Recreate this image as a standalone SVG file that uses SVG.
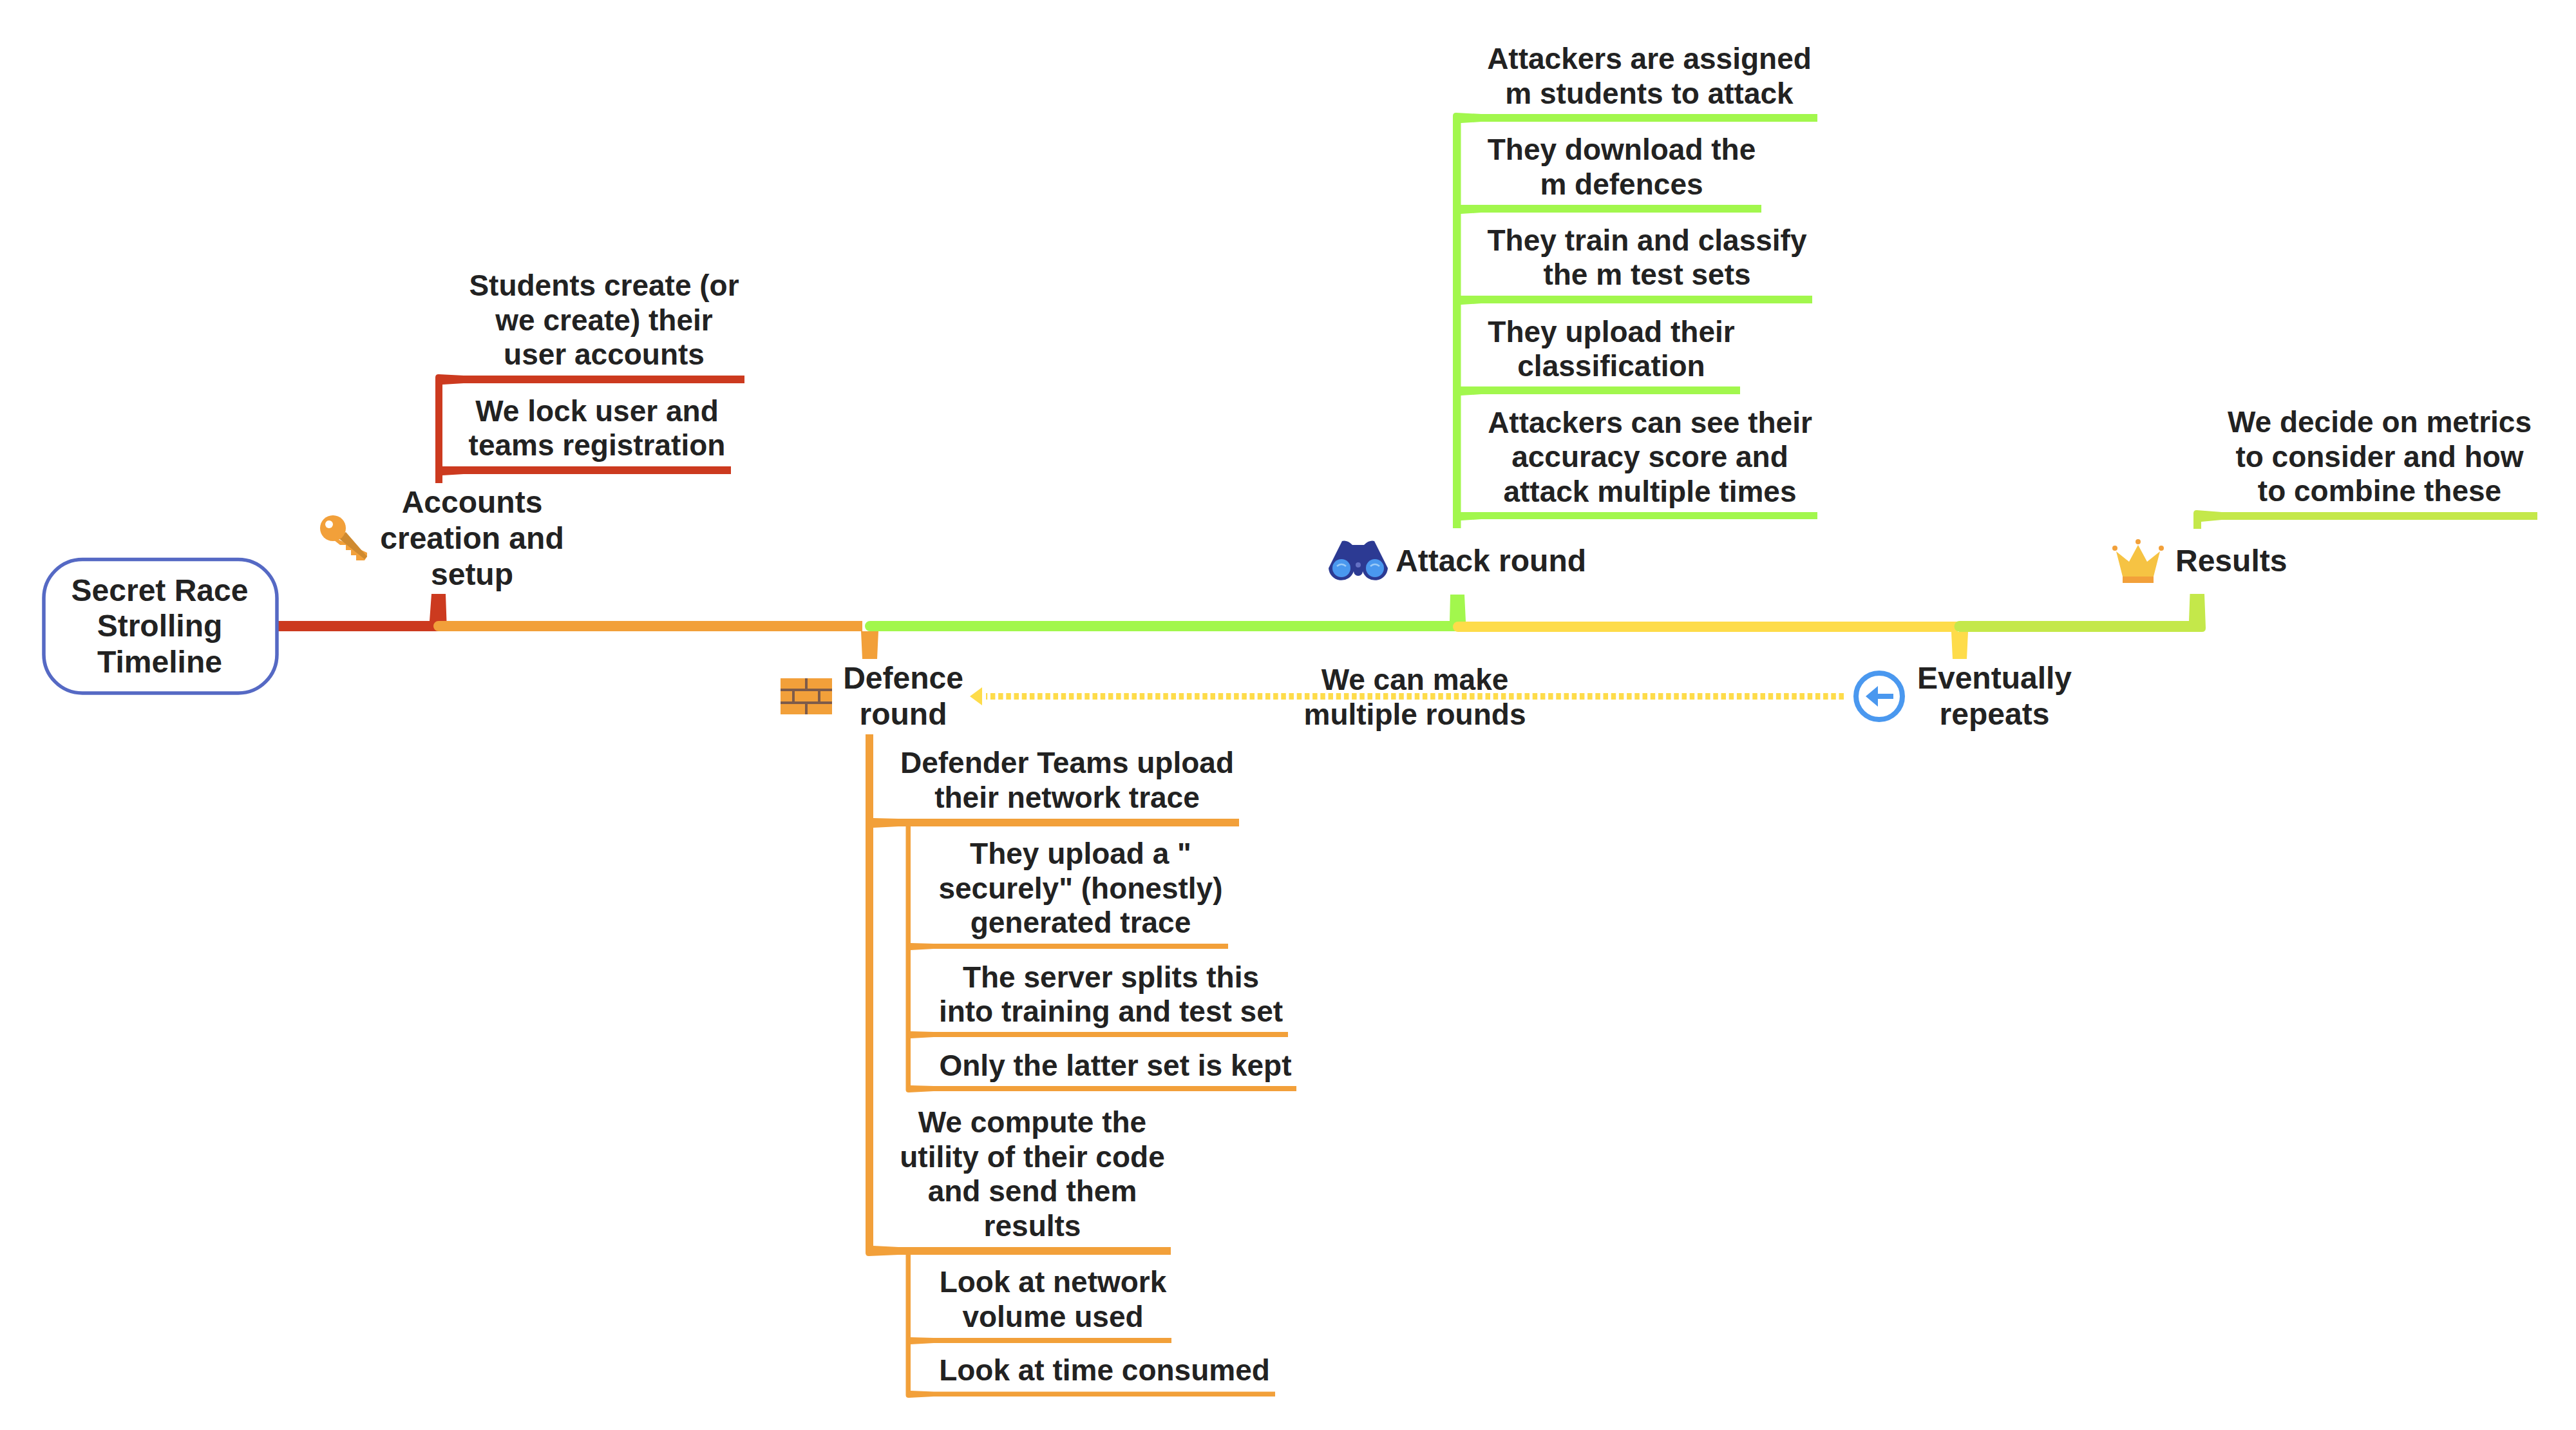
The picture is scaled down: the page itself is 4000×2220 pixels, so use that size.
<svg xmlns="http://www.w3.org/2000/svg" width="4000" height="2220" viewBox="0 0 4000 2220">
<style>
text{font-family:"Liberation Sans",Arial,sans-serif;font-weight:700;font-size:46px;fill:#222;text-anchor:middle}
.s{text-anchor:start}
.big text,text.big{font-size:48px}
.red{fill:#cc3a1f}.org{fill:#f2a03a}.grn{fill:#a2f74d}.yel{fill:#fedc4a}.lim{fill:#c4e84a}
</style>
<rect width="4000" height="2220" fill="#fff"/>
<g id="connectors">
<path class="red" d="M431 964H667L670 922H692L694 980H431Z"/>
<path class="org" d="M681 964H1339V980H1364L1362 1023H1339L1337 980H681A8 8 0 0 1 681 964Z"/>
<path class="grn" d="M1351 964H2251L2252 923H2274L2276 965V980H1351A8 8 0 0 1 1351 964Z"/>
<path class="yel" d="M2264 965H3040V981H3056L3054 1023H3032L3030 981H2264A8 8 0 0 1 2264 965Z"/>
<path class="lim" d="M3043 964H3399L3400.5 922H3423L3425 975Q3425 981 3419 981H3043A8.5 8.5 0 0 1 3043 964Z"/>

<path class="red" d="M676 586Q676 581 681 581L720 583H1156V595H720L687 597V724H720H1135V736H720L687 738V750H676Z"/>
<path class="lim" d="M3406 797Q3406 792 3411 792L3450 795H3940V807H3450L3418 810V821H3406Z"/>
<path class="grn" d="M2256 180Q2256 175 2261 175L2300 177H2822V189H2300L2268.500 191V318L2300 318H2735V330H2300L2268.500 332V459L2300 459H2814V471H2300L2268.500 473V600L2300 600H2702V612H2300L2268.500 614V795L2300 795H2822V806H2300L2268.500 808V820H2256Z"/>

<path class="org" d="M1344 1140H1356V1270L1395 1271H1924V1283H1414V1464L1450 1465H1907V1473H1450L1414 1475V1601L1450 1602H2000V1610H1450L1414 1612V1685L1450 1686H2013V1694H1450L1411 1696Q1406.500 1696 1406.500 1692V1283H1395L1356 1285V1934L1395 1936H1818V1948H1414V2076L1450 2077H1819V2085H1450L1414 2087V2159L1450 2160.500H1980V2168H1450L1411 2170Q1406.500 2170 1406.500 2166V1948H1395L1349 1950Q1344 1950 1344 1945Z"/>

<path d="M2863 1081H1531" fill="none" stroke="#fedc4a" stroke-width="10" stroke-dasharray="7.500 4.700"/>
<polygon class="yel" points="1525,1067 1525,1095 1506,1081"/>
</g>

<g id="root" class="big">
<rect x="68" y="868.500" width="362" height="207.500" rx="60" fill="#fff" stroke="#5569c4" stroke-width="5.500"/>
<text x="248" y="933">Secret Race</text><text x="248" y="988">Strolling</text><text x="248" y="1044">Timeline</text>
</g>

<g id="accounts" class="big">
<g id="key-icon">
<path class="org" d="M522 836L570 858V864L566 870H553V862H545V854H537V846H528L518 838Z"/>
<path d="M537 826L570 864L566 868L525 835Z" fill="#cf8a30"/>
<circle class="org" cx="517" cy="820" r="20"/>
<circle cx="511" cy="814" r="6" fill="#fff"/>
</g>
<text x="733" y="796">Accounts</text><text x="733" y="852">creation and</text><text x="733" y="907.500">setup</text>
</g>
<g id="accounts-1"><text x="938" y="459">Students create (or</text><text x="938" y="512.500">we create) their</text><text x="938" y="566">user accounts</text></g>
<g id="accounts-2"><text x="927" y="653.500">We lock user and</text><text x="927" y="707">teams registration</text></g>

<g id="defence" class="big">
<g id="brick-icon">
<rect class="org" x="1212" y="1053" width="80" height="56"/>
<path d="M1212 1071H1292M1212 1091H1292M1252 1053V1069M1252 1093V1109M1232 1073V1089M1272 1073V1089" stroke="#7d5b4a" stroke-width="4" fill="none"/>
</g>
<text x="1402.500" y="1069">Defence</text><text x="1402.500" y="1125">round</text>
</g>
<g id="defence-1"><text x="1657" y="1200">Defender Teams upload</text><text x="1657" y="1254">their network trace</text></g>
<g id="defence-1-1"><text x="1678" y="1341">They upload a "</text><text x="1678" y="1395">securely" (honestly)</text><text x="1678" y="1448">generated trace</text></g>
<g id="defence-1-2"><text x="1725" y="1532.500">The server splits this</text><text x="1725" y="1586">into training and test set</text></g>
<g id="defence-1-3"><text x="1732" y="1670">Only the latter set is kept</text></g>
<g id="defence-2"><text x="1603" y="1758">We compute the</text><text x="1603" y="1812">utility of their code</text><text x="1603" y="1865">and send them</text><text x="1603" y="1919">results</text></g>
<g id="defence-2-1"><text x="1635" y="2006">Look at network</text><text x="1635" y="2060">volume used</text></g>
<g id="defence-2-2"><text x="1715" y="2143">Look at time consumed</text></g>

<g id="attack" class="big">
<g id="binoculars-icon">
<path d="M2063 882L2084 840Q2092 838 2100 846H2118Q2126 838 2134 840L2155 882A20 20 0 0 1 2116 887A7 7 0 0 1 2102 887A20 20 0 0 1 2063 882Z" fill="#2c3a93"/>
<circle cx="2083" cy="882" r="14" fill="#4a98ef"/><circle cx="2135" cy="882" r="14" fill="#4a98ef"/>
<path d="M2076 879Q2083 873 2090 879M2128 879Q2135 873 2142 879" fill="none" stroke="#9ccbf7" stroke-width="2.500"/>
<circle cx="2109" cy="877" r="4" fill="#6471c4"/>
</g>
<text class="s" x="2167" y="886.500">Attack round</text>
</g>
<g id="attack-1"><text x="2561" y="106.500">Attackers are assigned</text><text x="2561" y="160.500">m students to attack</text></g>
<g id="attack-2"><text x="2518" y="248">They download the</text><text x="2518" y="301.500">m defences</text></g>
<g id="attack-3"><text x="2557.500" y="389">They train and classify</text><text x="2557.500" y="442">the m test sets</text></g>
<g id="attack-4"><text x="2502" y="530.500">They upload their</text><text x="2502" y="583.500">classification</text></g>
<g id="attack-5"><text x="2562" y="671.500">Attackers can see their</text><text x="2562" y="725">accuracy score and</text><text x="2562" y="778.500">attack multiple times</text></g>

<g id="repeat-label"><text x="2197" y="1071">We can make</text><text x="2197" y="1125">multiple rounds</text></g>

<g id="eventually" class="big">
<g id="back-icon">
<circle cx="2918" cy="1081" r="36" fill="#fff" stroke="#4a98ef" stroke-width="8"/>
<path d="M2897 1081L2916 1065V1077H2940V1085H2916V1097Z" fill="#4a98ef"/>
</g>
<text x="3097" y="1069">Eventually</text><text x="3097" y="1125">repeats</text>
</g>

<g id="results" class="big">
<g id="crown-icon">
<path d="M3286 856L3306 872L3320 846L3334 872L3354 856L3344 895H3296Z" fill="#f6c343"/>
<rect class="org" x="3296" y="895" width="48" height="10"/>
<circle class="org" cx="3284" cy="851" r="4"/><circle class="org" cx="3320" cy="841" r="4"/><circle class="org" cx="3356" cy="851" r="4"/>
</g>
<text class="s" x="3378" y="887">Results</text>
</g>
<g id="results-1"><text x="3695" y="671">We decide on metrics</text><text x="3695" y="724.500">to consider and how</text><text x="3695" y="778">to combine these</text></g>
</svg>
